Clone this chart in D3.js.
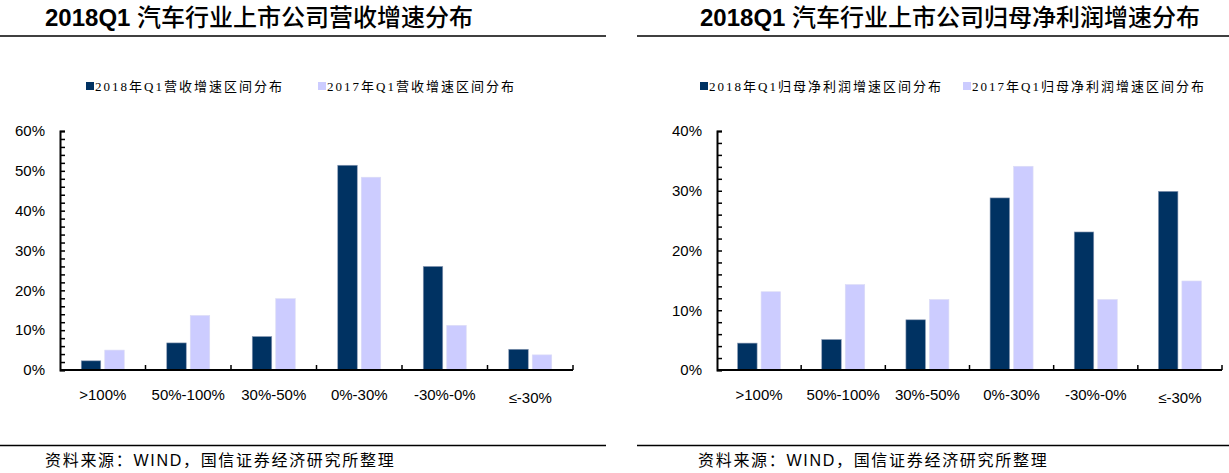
<!DOCTYPE html>
<html>
<head>
<meta charset="utf-8">
<script src="https://cdn.jsdelivr.net/npm/d3@7"></script>
<style>
  body { margin: 0; background: #fff; }
  svg { display: block; }
  .tick-label { font-family: "Liberation Sans", Arial, sans-serif; font-size: 15px; fill: #000; }
  .title { font-family: "Liberation Sans", "Noto Sans CJK SC", sans-serif; font-size: 24px; fill: #000; }
  .title .num { font-weight: bold; }
  .title .cjk { font-weight: 500; }
  .legend { font-family: "Liberation Serif", "Noto Sans CJK SC", serif; font-size: 13px; letter-spacing: 2px; fill: #000; }
  .source { font-family: "Liberation Sans", "Noto Sans CJK SC", sans-serif; font-size: 16px; letter-spacing: 1.7px; fill: #000; }
</style>
</head>
<body>
<svg id="chart" width="1229" height="473"></svg>
<script>
// categories shared by both charts
var categories = [">100%", "50%-100%", "30%-50%", "0%-30%", "-30%-0%", "≤-30%"];

// revenue growth distribution (%)
var revenue2018 = [2.3, 6.8, 8.4, 51.4, 26.0, 5.2];
var revenue2017 = [5.0, 13.7, 17.9, 48.4, 11.2, 3.8];
var revenueTicks = [0, 10, 20, 30, 40, 50, 60];

// net profit growth distribution (%)
var profit2018 = [4.5, 5.1, 8.4, 28.8, 23.1, 29.9];
var profit2017 = [13.1, 14.3, 11.8, 34.1, 11.8, 14.9];
var profitTicks = [0, 10, 20, 30, 40];

var darkColor = "#003262";
var lightColor = "#ccccff";
var source = "资料来源：WIND，国信证券经济研究所整理";

var svg = d3.select("#chart");

function drawPanel(cfg) {
  var g = svg.append("g");

  // title + rules
  var t = g.append("text").attr("class", "title")
    .attr("x", cfg.titleX).attr("y", 26);
  t.append("tspan").attr("class", "num").text("2018Q1 ");
  t.append("tspan").attr("class", "cjk").text(cfg.title);
  g.append("line")
    .attr("x1", cfg.ruleX[0]).attr("x2", cfg.ruleX[1])
    .attr("y1", 36).attr("y2", 36)
    .attr("stroke", "#000").attr("stroke-width", 1.5);
  g.append("line")
    .attr("x1", cfg.ruleX[0]).attr("x2", cfg.ruleX[1])
    .attr("y1", 445.5).attr("y2", 445.5)
    .attr("stroke", "#000").attr("stroke-width", 1.5);
  g.append("text").attr("class", "source")
    .attr("x", cfg.sourceX).attr("y", 466)
    .text(source);

  // legend
  var legend = g.selectAll(".leg")
    .data(cfg.legend)
    .enter().append("g")
      .attr("transform", function(d) { return "translate(" + d.x + ",86)"; });
  legend.append("rect")
    .attr("x", 0).attr("y", -4).attr("width", 8).attr("height", 8)
    .attr("fill", function(d) { return d.color; });
  legend.append("text").attr("class", "legend")
    .attr("x", 9).attr("y", 5)
    .text(function(d) { return d.label; });

  // scales
  var x0 = d3.scaleBand().domain(categories)
    .range([cfg.left, cfg.right]).padding(0);
  var bw = x0.bandwidth();
  var x1 = d3.scaleBand().domain([0, 1])
    .range([bw / 2 - 21.5, bw / 2 + 21.5]).paddingInner(0.17);
  var y = d3.scaleLinear().domain([0, cfg.max]).range([370, 131]);

  // bars
  var series = [cfg.s2018, cfg.s2017];
  var colors = [darkColor, lightColor];
  series.forEach(function(vals, si) {
    g.selectAll(".bar" + si)
      .data(vals)
      .enter().append("rect")
        .attr("x", function(d, i) { return x0(categories[i]) + x1(si); })
        .attr("width", x1.bandwidth())
        .attr("y", function(d) { return y(d); })
        .attr("height", function(d) { return y(0) - y(d); })
        .attr("fill", colors[si])
        .attr("stroke", si === 0 ? "#8a9ab5" : "#dcdcf5")
        .attr("stroke-width", 0.6);
  });

  // y axis: major + minor ticks inside
  var yAxis = d3.axisRight(y)
    .tickValues(d3.range(0, cfg.max + 0.001, 2))
    .tickSize(5).tickFormat("");
  g.append("g").attr("transform", "translate(" + cfg.left + ",0)")
    .call(yAxis)
    .call(function(a) {
      a.select(".domain").attr("stroke", "#000").attr("stroke-width", 2);
      a.selectAll("line").attr("stroke", "#000").attr("stroke-width", 1.5);
    });
  g.selectAll(".ylab")
    .data(cfg.ticks)
    .enter().append("text").attr("class", "tick-label")
      .attr("x", cfg.left - 15)
      .attr("y", function(d) { return y(d); })
      .attr("dy", "0.35em")
      .attr("text-anchor", "end")
      .text(function(d) { return d + "%"; });

  // x axis
  var boundaries = categories.map(function(c) { return x0(c) + bw; });
  g.append("line")
    .attr("x1", cfg.left).attr("x2", cfg.right)
    .attr("y1", y(0)).attr("y2", y(0))
    .attr("stroke", "#000").attr("stroke-width", 2);
  g.selectAll(".xtick")
    .data(boundaries)
    .enter().append("line")
      .attr("x1", function(d) { return d; }).attr("x2", function(d) { return d; })
      .attr("y1", y(0) - 5).attr("y2", y(0))
      .attr("stroke", "#000").attr("stroke-width", 1.5);
  g.selectAll(".xlab")
    .data(categories)
    .enter().append("text").attr("class", "tick-label")
      .attr("x", function(d) { return x0(d) + bw / 2; })
      .attr("y", function(d, i) { return i === 5 ? 403 : 400; })
      .attr("text-anchor", "middle")
      .text(function(d) { return d; });
}

drawPanel({
  title: "汽车行业上市公司营收增速分布",
  titleX: 45, ruleX: [0, 606], sourceX: 45,
  left: 60, right: 573, max: 60, ticks: revenueTicks,
  s2018: revenue2018, s2017: revenue2017,
  legend: [
    {x: 86, color: darkColor, label: "2018年Q1营收增速区间分布"},
    {x: 318, color: lightColor, label: "2017年Q1营收增速区间分布"}
  ]
});

drawPanel({
  title: "汽车行业上市公司归母净利润增速分布",
  titleX: 700, ruleX: [637, 1229], sourceX: 698,
  left: 717, right: 1222, max: 40, ticks: profitTicks,
  s2018: profit2018, s2017: profit2017,
  legend: [
    {x: 700, color: darkColor, label: "2018年Q1归母净利润增速区间分布"},
    {x: 963, color: lightColor, label: "2017年Q1归母净利润增速区间分布"}
  ]
});
</script>
</body>
</html>
